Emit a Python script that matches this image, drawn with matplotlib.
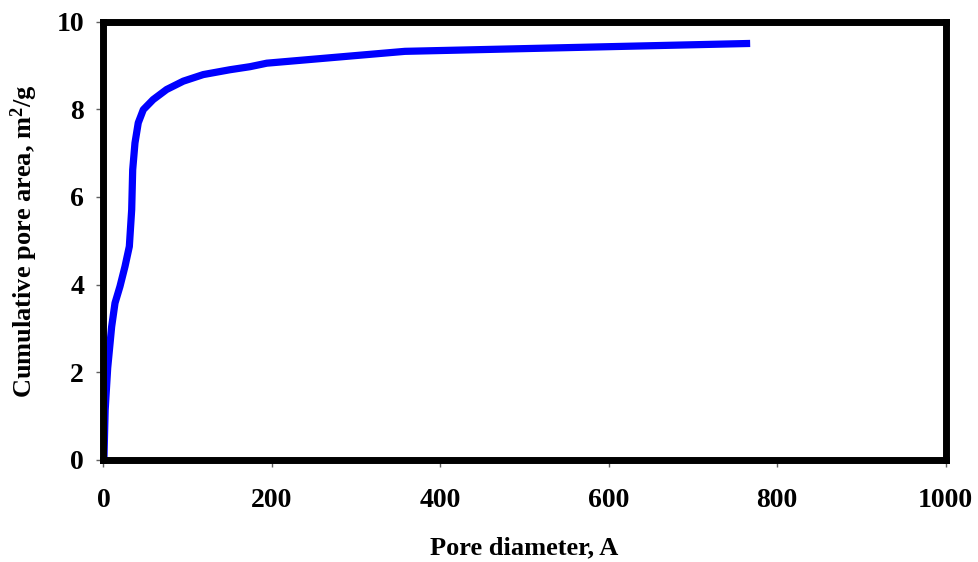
import matplotlib
matplotlib.use("Agg")
import matplotlib.pyplot as plt

# Data
pore_diameter = [0.5, 2, 5, 9.7, 13.7, 19.6, 25.5, 30.7, 33.5, 34.7, 37.4, 41.3,
                 47.3, 59, 75, 94.8, 118.5, 150, 174, 194, 358, 768]
cum_area = [0.0, 1.14, 2.1, 3.04, 3.58, 3.96, 4.41, 4.87, 5.71, 6.62, 7.23, 7.69,
            7.99, 8.22, 8.45, 8.64, 8.79, 8.9, 8.97, 9.05, 9.32, 9.50]
x_ticks = [0, 200, 400, 600, 800, 1000]
y_ticks = [0, 2, 4, 6, 8, 10]

plt.rcParams['font.family'] = ['Liberation Serif', 'DejaVu Serif']
plt.rcParams['font.weight'] = 'bold'
plt.rcParams['mathtext.default'] = 'regular'

fig = plt.figure(figsize=(9.79, 5.62), dpi=100)
ax = fig.add_axes([0.1057, 0.1815, 0.9658 - 0.1057, 0.9617 - 0.1815])

ax.plot(pore_diameter, cum_area, color='#0000ff', lw=5.2, solid_capstyle='butt',
        solid_joinstyle='round')

ax.set_xlim(0, 1000)
ax.set_ylim(0, 10)
ax.set_xticks(x_ticks)
ax.set_yticks(y_ticks)
ax.set_xticklabels([str(v) for v in x_ticks], fontsize=20, fontweight='bold')
ax.set_yticklabels([str(v) for v in y_ticks], fontsize=20, fontweight='bold')
ax.tick_params(axis='x', direction='out', length=5, width=1, color='#606060', pad=15)
ax.tick_params(axis='y', direction='out', length=5, width=1, color='#606060', pad=9)

for s in ax.spines.values():
    s.set_linewidth(5)
    s.set_color('black')

ax.set_xlabel('Pore diameter, A', fontsize=19, fontweight='bold', labelpad=17)
ax.set_ylabel('Cumulative pore area, m$^{2}$/g', fontsize=19, fontweight='bold', labelpad=12)

fig.savefig('out.png', dpi=100)
